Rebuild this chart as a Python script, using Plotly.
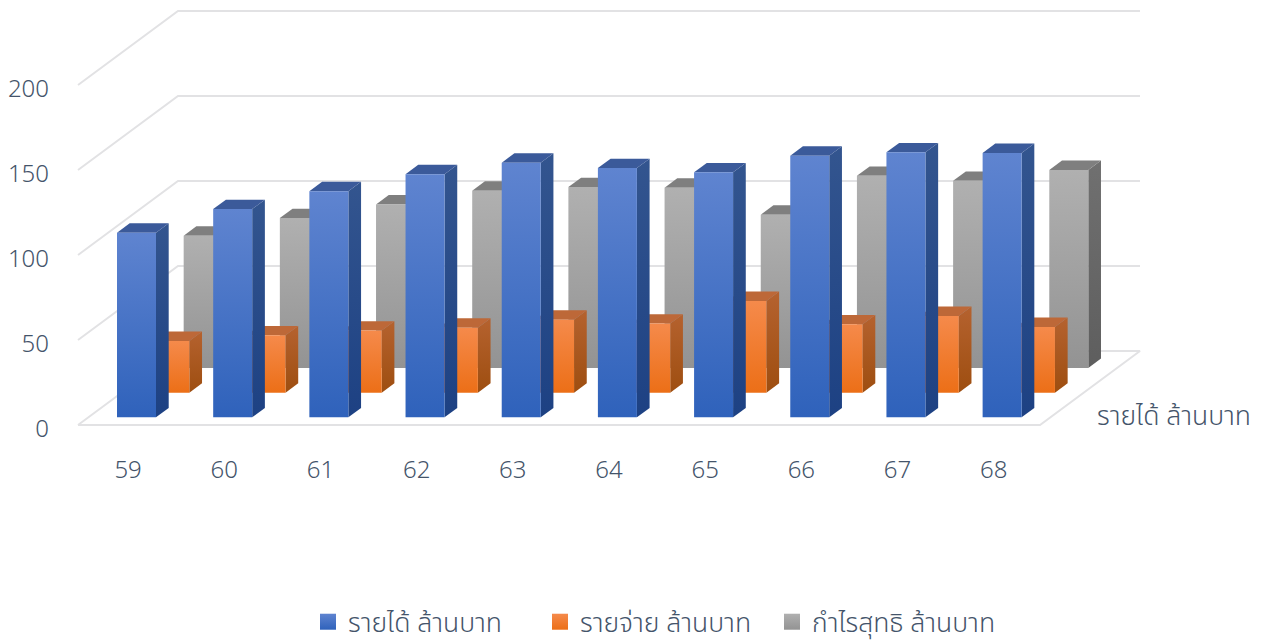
import plotly.graph_objects as go

categories = ["59", "60", "61", "62", "63", "64", "65", "66", "67", "68"]
series_names = ["รายได้ ล้านบาท", "รายจ่าย ล้านบาท", "กำไรสุทธิ ล้านบาท"]
revenue = [108.6, 122.5, 133, 143, 149.8, 146.6, 144.1, 153.9, 155.9, 155.5]
expense = [30.4, 33.7, 36.5, 38.2, 42.9, 40.6, 53.9, 40.2, 45.1, 38.6]
profit = [77.8, 88.2, 96.2, 104.3, 106.4, 106, 90.2, 113, 110.1, 116.5]
y_ticks = [0, 50, 100, 150, 200]
depth_label = "รายได้ ล้านบาท"

FONT = "Noto Sans Thai, Noto Sans, Open Sans, sans-serif"
TEXT = "#44546a"
W, H, L, B = 1264, 643, 52, 453
PX = 96.18
PY = 1.7
X0, Y0 = 126.1, 425
DX = 100 / PX
DY = 74 / PY
BAR = 39 / PX
DEPTH = 0.127
ROW = 1 / 3
ROW0 = 0.104

def proj(x, v, d):
    return x + d * DX, v + d * DY

faces = [
    (revenue, ("#5f84d0", "#2f62bb"), ("#33558f", "#1d4183"), "#3b5a9a", 0),
    (expense, ("#f58a4b", "#ec6f17"), ("#b5622f", "#9e4e10"), "#bd6838", 1),
    (profit, ("#b0b0b0", "#939393"), ("#707070", "#5e5e5e"), "#7f7f7f", 2),
]

fig = go.Figure()

xl = (78 - X0) / PX
xr = (1040 - X0) / PX
gx, gy = [], []
for t in y_ticks[1:]:
    p = proj(xl, t, 1)
    q = proj(xr, t, 1)
    gx += [xl, p[0], q[0], None]
    gy += [t, p[1], q[1], None]
p = proj(xl, 0, 1)
q = proj(xr, 0, 1)
gx += [xl, p[0], q[0], xr, xl]
gy += [0, p[1], q[1], 0, 0]
fig.add_trace(go.Scatter(x=gx, y=gy, mode="lines", line=dict(color="#e2e2e4", width=2),
                         showlegend=False, hoverinfo="skip"))

def poly(pts, **kw):
    xs = [a for a, _ in pts] + [pts[0][0]]
    ys = [b for _, b in pts] + [pts[0][1]]
    fig.add_trace(go.Scatter(x=xs, y=ys, mode="lines", line=dict(width=0), fill="toself",
                             showlegend=False, hoverinfo="skip", **kw))

def grad(top, bottom):
    return dict(type="vertical", colorscale=[[0, bottom], [1, top]])

for vals, front, side, cap, row in reversed(faces):
    d0 = ROW0 + row * ROW
    d1 = d0 + DEPTH
    for i, v in enumerate(vals):
        a, b = i - BAR / 2, i + BAR / 2
        poly([proj(b, 0, d0), proj(b, 0, d1), proj(b, v, d1), proj(b, v, d0)],
             fillgradient=grad(*side))
        poly([proj(a, v, d0), proj(b, v, d0), proj(b, v, d1), proj(a, v, d1)], fillcolor=cap)
        poly([proj(a, 0, d0), proj(b, 0, d0), proj(b, v, d0), proj(a, v, d0)],
             fillgradient=grad(*front))

for name, (_, front, _, _, _) in zip(series_names, faces):
    fig.add_trace(go.Scatter(x=[None], y=[None], mode="markers", name=name,
                             marker=dict(symbol="square", size=16, color=front[0],
                                         gradient=dict(type="vertical", color=front[1])),
                             hoverinfo="skip"))

fig.add_annotation(x=(1095 - X0) / PX, y=(Y0 - 417) / PY, text=depth_label, showarrow=False,
                   xanchor="left", yanchor="middle",
                   font=dict(family=FONT, size=26.5, color=TEXT, weight=300))

fig.update_layout(
    width=W, height=H, margin=dict(l=L, r=0, t=0, b=H - B, autoexpand=False),
    plot_bgcolor="white", paper_bgcolor="white",
    font=dict(family=FONT, size=24, color=TEXT, weight=300),
    xaxis=dict(range=[(L - X0) / PX, (W - X0) / PX], tickvals=list(range(len(categories))),
               ticktext=categories, showgrid=False, zeroline=False, showline=False, ticks="",
               ticklabelshift=2),
    yaxis=dict(range=[(Y0 - B) / PY, Y0 / PY], tickvals=y_ticks, showgrid=False, zeroline=False,
               showline=False, ticks="", ticklabelshift=4, ticklabelstandoff=2),
    legend=dict(orientation="h", x=(656 - L) / (W - L), xanchor="center",
                y=(B - 622) / B, yanchor="middle",
                font=dict(family=FONT, size=26.5, color=TEXT, weight=300), itemsizing="trace",
                bgcolor="rgba(0,0,0,0)", itemwidth=30, entrywidth=187, entrywidthmode="pixels"),
)
fig.write_html("out.html", config=dict(displayModeBar=False),
               post_script="document.body.style.margin='0';")
